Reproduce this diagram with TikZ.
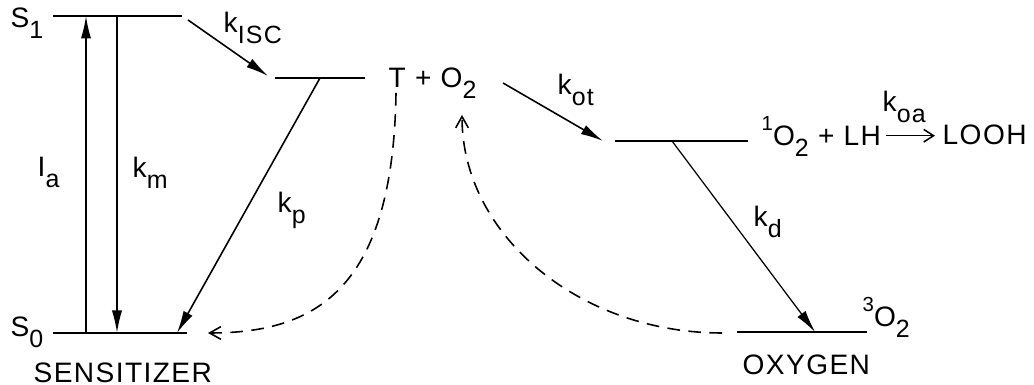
\documentclass[tikz,border=0pt]{standalone}
\usepackage{fontspec}
\setmainfont{Liberation Sans}[LetterSpace=5]
\usetikzlibrary{arrows.meta}
\newcommand{\subtxt}[1]{\raisebox{-3pt}{\fontsize{7.1}{8}\selectfont #1}}
\newcommand{\suptxt}[1]{\raisebox{4.4pt}{\fontsize{5.8}{7}\selectfont #1}}

\begin{document}
\begin{tikzpicture}[
  lvl/.style={line width=0.75pt},
  rate/.style={line width=0.45pt,-{Latex[length=6.4pt,width=2.9pt]}},
  fwd/.style={line width=0.45pt,-{Straight Barb[length=2.8pt,width=3.6pt]}},
  ret/.style={line width=0.45pt,dash pattern=on 3.6pt off 2.4pt,-{Straight Barb[length=3.2pt,width=3.6pt]}},
  lab/.style={inner sep=0pt,anchor=base west,font=\fontsize{8}{10}\selectfont}]
  \useasboundingbox (0,0) rectangle (10.34,3.85);
  % energy levels
  \coordinate (s1L) at (0.53,3.69); \coordinate (s1R) at (1.82,3.69);
  \coordinate (s0L) at (0.53,0.52); \coordinate (s0R) at (1.87,0.52);
  \coordinate (tL) at (2.75,3.07); \coordinate (tR) at (3.65,3.07);
  \coordinate (o1L) at (6.15,2.44); \coordinate (o1R) at (7.48,2.44);
  \coordinate (o3L) at (7.37,0.53); \coordinate (o3R) at (8.67,0.53);
  \draw[lvl] (s1L)--(s1R); \draw[lvl] (s0L)--(s0R); \draw[lvl] (tL)--(tR);
  \draw[lvl] (o1L)--(o1R); \draw[lvl] (o3L)--(o3R);
  % labels
  \node[lab] (s1) at (0.10,3.57) {S\subtxt{1}};
  \node[lab] (s0) at (0.10,0.48) {S\subtxt{0}};
  \node[lab] (sens) at (0.33,0.02) {SENSITIZER};
  \node[lab] (ia) at (0.37,2.08) {I\subtxt{a}};
  \node[lab] (km) at (1.32,2.07) {k\subtxt{m}};
  \node[lab] (kisc) at (2.23,3.52) {k\subtxt{ISC}};
  \node[lab] (kp) at (2.77,1.72) {k\subtxt{p}};
  \node[lab] (tO) at (3.88,2.97) {T + O\subtxt{2}};
  \node[lab] (kot) at (5.57,2.90) {k\subtxt{ot}};
  \node[lab] (sO) at (7.61,2.39) {\suptxt{1}O\subtxt{2} + LH};
  \node[lab] (koa) at (8.82,2.73) {k\subtxt{oa}};
  \node[lab] (looh) at (9.42,2.40) {LOOH};
  \node[lab] (kd) at (7.53,1.58) {k\subtxt{d}};
  \node[lab] (gO) at (8.62,0.58) {\suptxt{3}O\subtxt{2}};
  \node[lab] (oxy) at (7.42,0.10) {OXYGEN};
  % transitions
  \coordinate (iaB) at (0.86,0.52); \coordinate (iaT) at (0.86,3.69);
  \coordinate (kmT) at (1.17,3.69); \coordinate (kmB) at (1.17,0.52);
  \coordinate (iscA) at (1.88,3.65); \coordinate (iscB) at (2.68,3.09);
  \coordinate (kpA) at (3.20,3.07); \coordinate (kpB) at (1.77,0.52);
  \coordinate (otA) at (5.03,3.02); \coordinate (otB) at (6.03,2.44);
  \coordinate (kdA) at (6.72,2.44); \coordinate (kdB) at (8.15,0.53);
  \draw[rate] (iaB)--(iaT);
  \draw[rate] (kmT)--(kmB);
  \draw[rate] (iscA)--(iscB);
  \draw[rate] (kpA)--(kpB);
  \draw[rate] (otA)--(otB);
  \draw[rate,line width=0.35pt] (kdA)--(kdB);
  \draw[fwd,shorten <=1.2pt,shorten >=2pt] (sO.east |- looh.mid west)--(looh.mid west);
  % dashed returns
  \coordinate (tD) at (3.96,2.92); \coordinate (s0D) at (2.08,0.52);
  \coordinate (o3D) at (7.22,0.52); \coordinate (oUp) at (4.62,2.70);
  \draw[ret] (tD) .. controls (3.93,1.00) and (3.20,0.52) .. (s0D);
  \draw[ret] (o3D) .. controls (5.79,0.52) and (4.62,1.50) .. (oUp);
\end{tikzpicture}
\end{document}
